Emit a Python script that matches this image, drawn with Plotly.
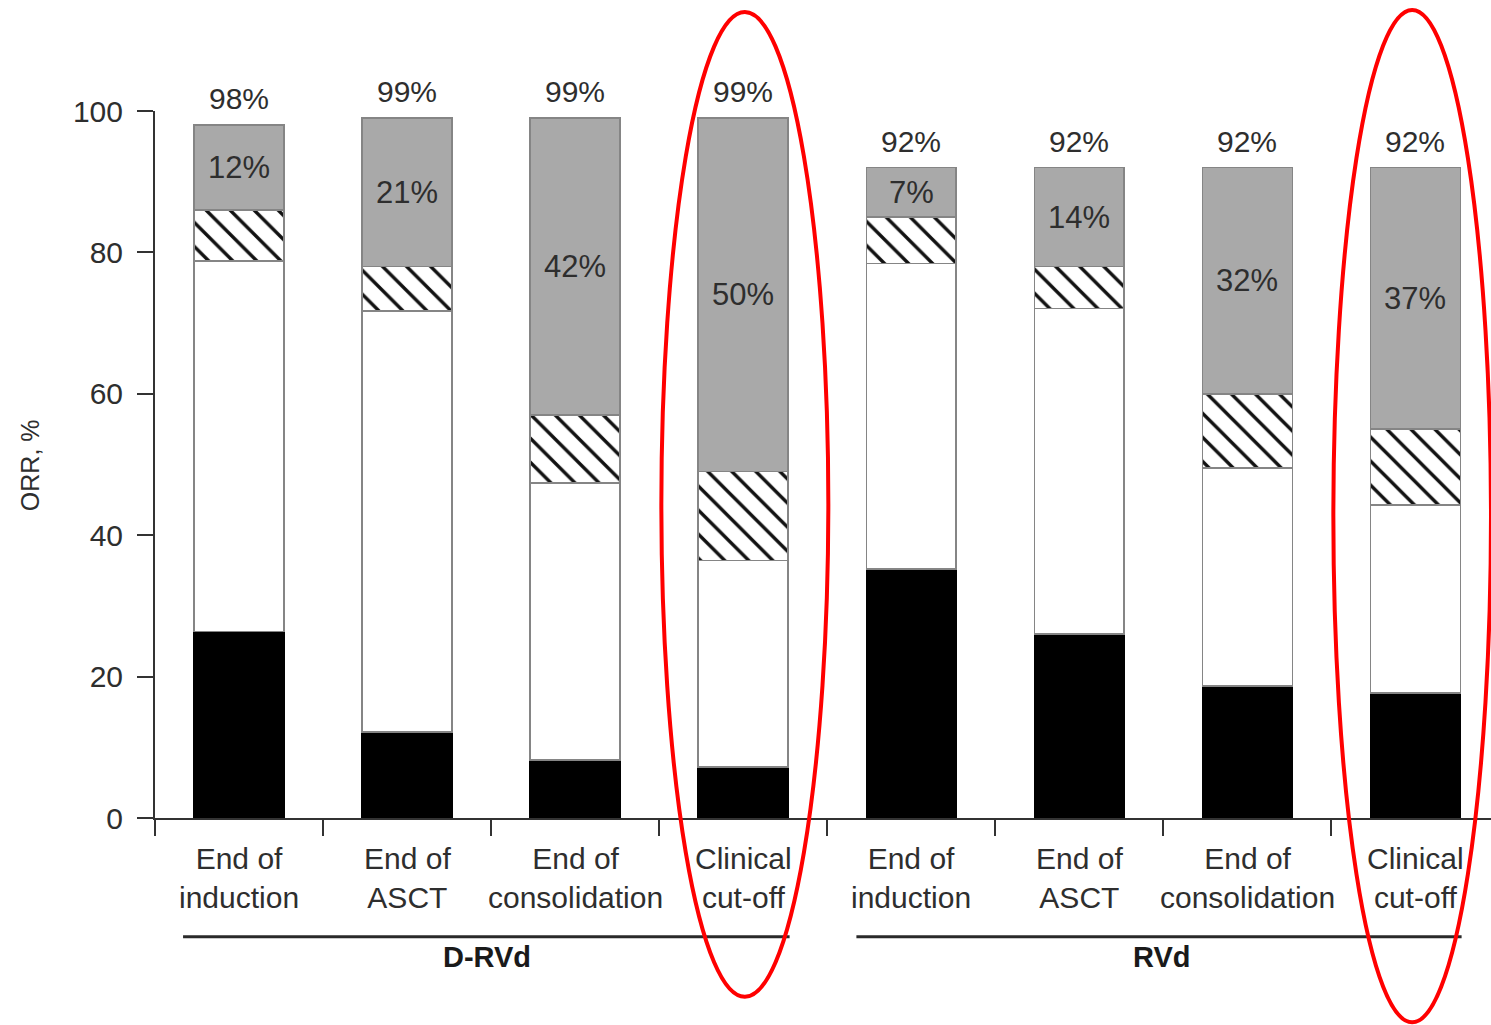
import plotly.graph_objects as go

# Response categories per time point (percent of patients)
timepoints = ["End of<br>induction", "End of<br>ASCT", "End of<br>consolidation", "Clinical<br>cut-off",
              "End of<br>induction", "End of<br>ASCT", "End of<br>consolidation", "Clinical<br>cut-off"]
groups = ["D-RVd", "RVd"]
orr_total = [98, 99, 99, 99, 92, 92, 92, 92]
pr = [26.4, 12.2, 8.2, 7.2, 35.2, 26.0, 18.7, 17.7]
vgpr = [52.4, 59.5, 39.2, 29.2, 43.2, 46.1, 30.8, 26.6]
cr = [7.2, 6.3, 9.6, 12.6, 6.6, 5.9, 10.5, 10.7]
scr = [12, 21, 42, 50, 7, 14, 32, 37]

FONT = "Liberation Sans Narrow, Arial Narrow, Liberation Sans, sans-serif"
TXT = "#2e2e2e"
EDGE = "#858585"

xs = list(range(len(timepoints)))
bw = 0.535

fig = go.Figure()
fig.add_bar(x=xs, y=pr, width=bw, marker=dict(color="#000000", line=dict(color="#000000", width=1.5)))
fig.add_bar(x=xs, y=vgpr, width=bw, marker=dict(color="#ffffff", line=dict(color=EDGE, width=1.5)))
fig.add_bar(x=xs, y=cr, width=bw,
            marker=dict(color="#ffffff", line=dict(color=EDGE, width=1.5),
                        pattern=dict(shape="\\", fgcolor="#111111", fgopacity=1, bgcolor="#ffffff",
                                     size=17, solidity=0.2)))
fig.add_bar(x=xs, y=scr, width=bw, marker=dict(color="#a9a9a9", line=dict(color=EDGE, width=1.5)))

annotations = []
for i in xs:
    below = pr[i] + vgpr[i] + cr[i]
    # sCR value in the middle of the grey segment
    annotations.append(dict(x=i, y=below + scr[i] / 2, xref="x", yref="y", text=f"{scr[i]}%",
                            showarrow=False, font=dict(family=FONT, size=31, color=TXT)))
    # overall response above the bar
    annotations.append(dict(x=i, y=orr_total[i], xref="x", yref="y", text=f"{orr_total[i]}%",
                            showarrow=False, yanchor="bottom", yshift=8,
                            font=dict(family=FONT, size=30, color=TXT)))
    # category label under the axis
    annotations.append(dict(x=i, y=0, xref="x", yref="y", text=timepoints[i],
                            showarrow=False, yanchor="top", yshift=-22,
                            font=dict(family=FONT, size=30, color=TXT)))

# treatment arm labels
for gx, name in zip([0.2485, 0.753], groups):
    annotations.append(dict(x=gx, y=-0.222, xref="paper", yref="paper", text=f"<b>{name}</b>",
                            xanchor="center", showarrow=False,
                            font=dict(family=FONT, size=29, color="#1a1a1a")))

annotations.append(dict(x=-0.0936, y=0.499, xref="paper", yref="paper", text="ORR, %",
                        xanchor="center", yanchor="middle",
                        textangle=-90, showarrow=False, font=dict(family=FONT, size=25, color=TXT)))

shapes = [
    dict(type="line", xref="paper", yref="paper", x0=0.021, x1=0.475, y0=-0.168, y1=-0.168,
         line=dict(color="#2a2a2a", width=3)),
    dict(type="line", xref="paper", yref="paper", x0=0.525, x1=0.978, y0=-0.168, y1=-0.168,
         line=dict(color="#2a2a2a", width=3)),
    # highlight rings around the clinical cut-off bars
    dict(type="circle", xref="paper", yref="paper", x0=0.379, x1=0.504, y0=-0.253, y1=1.140,
         line=dict(color="#ff0000", width=4)),
    dict(type="circle", xref="paper", yref="paper", x0=0.882, x1=1.0, y0=-0.289, y1=1.143,
         line=dict(color="#ff0000", width=4)),
]

fig.update_layout(
    width=1491, height=1025,
    barmode="stack", showlegend=False,
    plot_bgcolor="#ffffff", paper_bgcolor="#ffffff",
    margin=dict(l=155, r=0, t=111, b=207),
    annotations=annotations, shapes=shapes,
    xaxis=dict(range=[-0.5, 7.45], tickmode="array",
               tickvals=[-0.5, 0.5, 1.5, 2.5, 3.5, 4.5, 5.5, 6.5],
               ticktext=[""] * 8, ticks="outside", ticklen=16, tickwidth=2, tickcolor="#333333",
               showline=True, linecolor="#333333", linewidth=2, showgrid=False, zeroline=False),
    yaxis=dict(range=[0, 100], tickmode="array", tickvals=[0, 20, 40, 60, 80, 100],
               ticks="outside", ticklen=16, tickwidth=2, tickcolor="#333333",
               ticklabelstandoff=8,
               tickfont=dict(family=FONT, size=30, color=TXT),
               showline=True, linecolor="#333333", linewidth=2, showgrid=False, zeroline=False),
)

fig.write_html("out.html")
